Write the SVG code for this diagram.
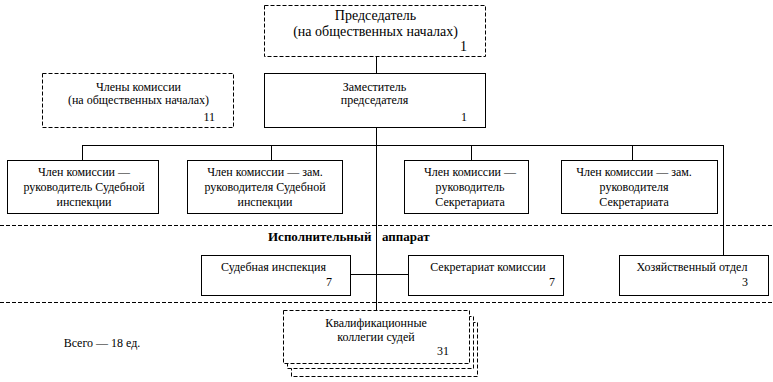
<svg xmlns="http://www.w3.org/2000/svg" width="773" height="382" viewBox="0 0 773 382">
<style>
text{font-family:"Liberation Serif","Times New Roman",serif;font-size:12px;fill:#000;text-anchor:middle}
.big{font-size:14px}
.num{text-anchor:end}
.b{font-weight:bold;font-size:13px;text-anchor:start}
.solid{fill:#fff;stroke:#000;stroke-width:1}
.dash{fill:#fff;stroke:#000;stroke-width:1;stroke-dasharray:4 2}
.ln{fill:none;stroke:#000;stroke-width:1}
.sep{fill:none;stroke:#000;stroke-width:1;stroke-dasharray:4 2}
</style>
<rect width="773" height="382" fill="#fff"/>
<g id="separators">
<path class="sep" d="M0 225.5H773M0 302.5H773"/>
</g>
<g id="connectors">
<path class="ln" d="M376.5 56V73M376.5 127V310M82.5 145.5H723.5M82.5 145V160M271.5 145V160M471.5 145V160M632.5 145V160M723.5 145V255M350 274.5H408"/>
</g>
<g id="chair">
<rect class="dash" x="264.5" y="5.5" width="221" height="51"/>
<text class="big" x="375.5" y="20">Председатель</text>
<text class="big" x="375.5" y="36">(на общественных началах)</text>
<text class="big num" x="467" y="51">1</text>
</g>
<g id="deputy">
<rect class="solid" x="264.5" y="73.5" width="221" height="54"/>
<text x="374.5" y="91">Заместитель</text>
<text x="374.5" y="104">председателя</text>
<text class="num" x="467" y="121">1</text>
</g>
<g id="members">
<rect class="dash" x="42.5" y="73.5" width="191" height="54"/>
<text x="138.5" y="91">Члены комиссии</text>
<text x="138.5" y="104">(на общественных началах)</text>
<text class="num" x="215" y="121">11</text>
</g>
<g id="m1">
<rect class="solid" x="7.5" y="160.5" width="151" height="53"/>
<text x="84" y="176">Член комиссии —</text>
<text x="84" y="191">руководитель Судебной</text>
<text x="84" y="206">инспекции</text>
</g>
<g id="m2">
<rect class="solid" x="187.5" y="160.5" width="155" height="53"/>
<text x="265" y="176">Член комиссии — зам.</text>
<text x="265" y="191">руководителя Судебной</text>
<text x="265" y="206">инспекции</text>
</g>
<g id="m3">
<rect class="solid" x="404.5" y="160.5" width="124" height="53"/>
<text x="470" y="176">Член комиссии —</text>
<text x="470" y="191">руководитель</text>
<text x="470" y="206">Секретариата</text>
</g>
<g id="m4">
<rect class="solid" x="561.5" y="160.5" width="156" height="53"/>
<text x="634" y="176">Член комиссии — зам.</text>
<text x="634" y="191">руководителя</text>
<text x="634" y="206">Секретариата</text>
</g>
<g id="apparatus-label">
<text class="b" x="268" y="241">Исполнительный</text>
<text class="b" x="382" y="241">аппарат</text>
</g>
<g id="sud">
<rect class="solid" x="201.5" y="255.5" width="149" height="40"/>
<text x="273.5" y="271">Судебная инспекция</text>
<text class="num" x="332" y="286">7</text>
</g>
<g id="sec">
<rect class="solid" x="408.5" y="255.5" width="155" height="40"/>
<text x="488" y="271">Секретариат комиссии</text>
<text class="num" x="555" y="286">7</text>
</g>
<g id="hoz">
<rect class="solid" x="619.5" y="255.5" width="149" height="40"/>
<text x="692" y="271">Хозяйственный отдел</text>
<text class="num" x="748" y="286">3</text>
</g>
<g id="kval">
<rect class="dash" x="291.5" y="322.5" width="186" height="54"/>
<rect class="dash" x="287.5" y="316.5" width="186" height="52"/>
<rect class="dash" x="283.5" y="310.5" width="186" height="53"/>
<text x="376" y="327">Квалификационные</text>
<text x="376" y="341">коллегии судей</text>
<text class="num" x="449" y="355">31</text>
</g>
<g id="total">
<text x="102" y="347">Всего — 18 ед.</text>
</g>
</svg>
